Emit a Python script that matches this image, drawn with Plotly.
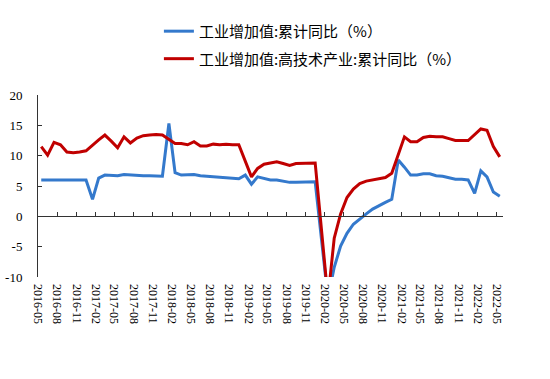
import pandas as pd
import plotly.graph_objects as go

months = [d.strftime("%Y-%m-01") for d in pd.date_range("2016-05-01", "2022-05-01", freq="MS")]

ip_total = [
    6.0, 6.0, 6.0, 6.0, 6.0, 6.0, 6.0, 6.0,
    2.8,
    6.3, 6.8, 6.7, 6.7, 6.9, 6.8, 6.7, 6.7, 6.7, 6.6, 6.6,
    15.3,
    7.2, 6.8, 6.9, 6.9, 6.7, 6.6, 6.5, 6.4, 6.4, 6.3, 6.2,
    6.8,
    5.3, 6.5, 6.2, 6.0, 6.0, 5.8, 5.6, 5.6, 5.6, 5.6, 5.7,
    None,
    -13.5, -8.4, -4.9, -2.8, -1.3, -0.4, 0.4, 1.2, 1.8, 2.3, 2.8,
    9.3,
    8.1, 6.8, 6.8, 7.0, 7.0, 6.7, 6.6, 6.4, 6.1, 6.1, 6.0,
    3.8,
    7.5, 6.5, 4.0, 3.3,
]

ip_hightech = [
    11.5, 10.1, 12.2, 11.8, 10.6, 10.5, 10.6, 10.8,
    None,
    12.6, 13.4, 12.4, 11.3, 13.1, 12.1, 12.9, 13.3, 13.4, 13.5, 13.4,
    None,
    12.0, 12.0, 11.8, 12.3, 11.6, 11.6, 11.9, 11.8, 11.9, 11.8, 11.8,
    None,
    6.5, 7.9, 8.6, 8.8, 9.0, 8.7, 8.4, 8.7, 8.7, 8.7, 8.8,
    None,
    -13.5, -3.6, 0.4, 3.1, 4.5, 5.4, 5.8, 6.0, 6.1, 6.4, 7.1,
    None,
    13.1, 12.3, 12.3, 13.0, 13.2, 13.1, 13.1, 12.8, 12.5, 12.5, 12.5,
    None,
    14.4, 14.2, 11.5, 9.8,
]

series_names = ["工业增加值:累计同比（%）", "工业增加值:高技术产业:累计同比（%）"]
y_tickvals = [-10, -5, 0, 5, 10, 15, 20]
y_ticktext = ["-10", "-5", "0", "5", "10", "15", "20"]

BLUE = "#3479CC"
RED = "#C00000"
AXIS = "#333333"

fig = go.Figure()
fig.add_trace(go.Scatter(
    x=months, y=ip_total, name=series_names[0], mode="lines",
    line=dict(color=BLUE, width=3), connectgaps=True,
    xperiod="M1", xperiodalignment="middle", legendgroup="a",
))
fig.add_trace(go.Scatter(
    x=months, y=ip_hightech, name=series_names[1], mode="lines",
    line=dict(color=RED, width=3), connectgaps=True,
    xperiod="M1", xperiodalignment="middle", legendgroup="b",
    xaxis="x2",
))

fig.update_layout(
    width=550, height=379,
    margin=dict(l=38, r=47, t=95, b=102, autoexpand=False),
    paper_bgcolor="white", plot_bgcolor="white",
    showlegend=True,
    legend=dict(
        x=0.26, y=1.44, xanchor="left", yanchor="top",
        font=dict(family="Noto Sans CJK SC", size=15, color="#000000"),
        tracegroupgap=5, bgcolor="rgba(0,0,0,0)",
    ),
    xaxis=dict(
        type="date", range=["2016-05-01", "2022-06-01"],
        tick0="2016-05-01", dtick="M3", tickformat="%Y-%m",
        tickangle=90, showline=False, ticks="", showgrid=False, zeroline=False,
        tickfont=dict(family="Liberation Serif", size=12, color="#000000"),
        ticklabelstandoff=6,
    ),
    xaxis2=dict(
        type="date", overlaying="x", matches="x", anchor="free", position=1/3,
        side="bottom", tick0="2016-05-01", dtick="M3",
        showline=True, linecolor=AXIS, linewidth=1,
        ticks="inside", ticklen=4, tickcolor=AXIS, tickwidth=1,
        showticklabels=False, showgrid=False, zeroline=False,
    ),
    yaxis=dict(
        range=[-10, 20], tickvals=y_tickvals, ticktext=y_ticktext,
        showline=True, linecolor=AXIS, linewidth=1,
        ticks="inside", ticklen=4, tickcolor=AXIS,
        showgrid=False, zeroline=False,
        tickfont=dict(family="Liberation Serif", size=13, color="#000000"),
        ticklabelstandoff=12,
    ),
)

fig.write_html("out.html", config={"displayModeBar": False},
               post_script="document.body.style.margin='0';")
